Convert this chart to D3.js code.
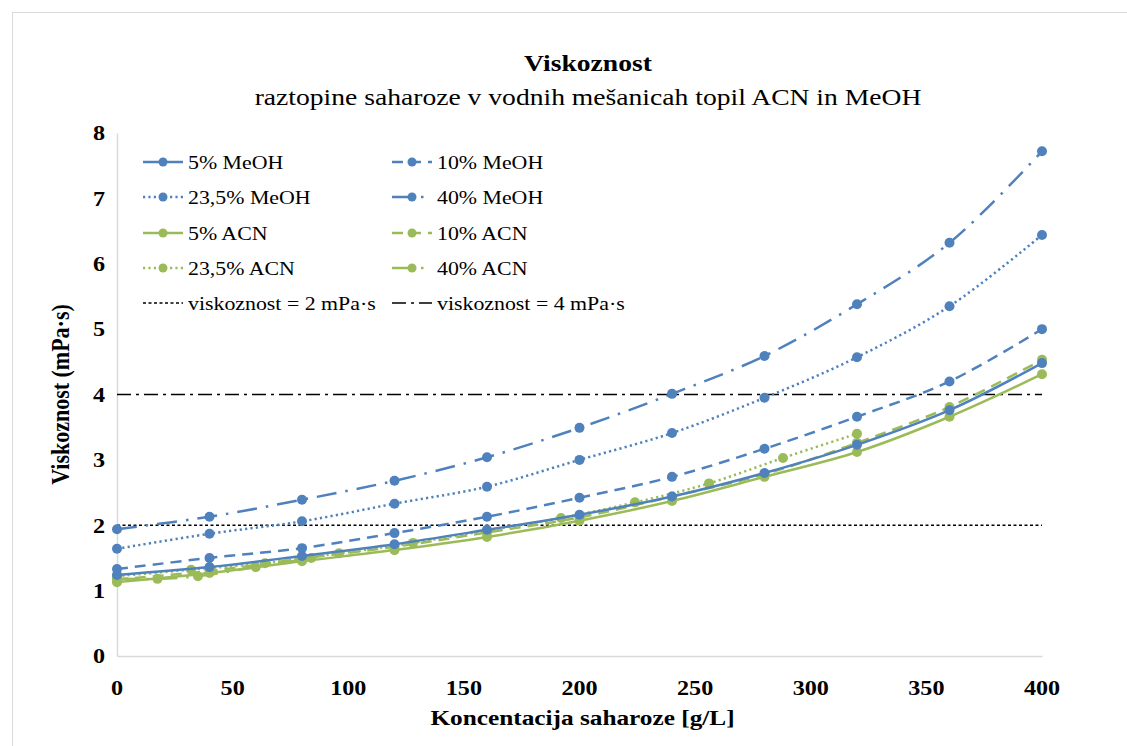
<!DOCTYPE html>
<html>
<head>
<meta charset="utf-8">
<script src="https://cdn.jsdelivr.net/npm/d3@7"></script>
<style>
  html, body { margin: 0; padding: 0; background: #fff; }
  svg { display: block; font-family: "Liberation Serif", "Times New Roman", serif; }
</style>
</head>
<body>
<svg id="chart" width="1127" height="746"></svg>
<script>
// Sucrose concentrations (g/L)
const concStep40 = [0, 40, 80, 120, 160, 200, 240, 280, 320, 360, 400];
const concStep32 = [0, 32, 64, 96, 128, 160, 192, 224, 256, 288, 320];
const concAcn40 = [0, 17.5, 35, 60, 84];

// Viscosity (mPa·s)
const meoh5 = [1.24, 1.36, 1.53, 1.71, 1.93, 2.16, 2.44, 2.80, 3.23, 3.76, 4.48];
const meoh10 = [1.33, 1.50, 1.65, 1.88, 2.13, 2.42, 2.74, 3.17, 3.66, 4.20, 5.00];
const meoh235 = [1.64, 1.87, 2.06, 2.33, 2.59, 3.00, 3.41, 3.95, 4.57, 5.35, 6.44];
const meoh40 = [1.94, 2.13, 2.39, 2.68, 3.04, 3.49, 4.01, 4.59, 5.38, 6.32, 7.72];
const acn5 = [1.13, 1.27, 1.45, 1.62, 1.82, 2.07, 2.37, 2.74, 3.12, 3.66, 4.31];
const acn10 = [1.17, 1.30, 1.49, 1.67, 1.89, 2.12, 2.44, 2.78, 3.26, 3.81, 4.53];
const acn235 = [1.22, 1.32, 1.42, 1.57, 1.73, 1.92, 2.11, 2.35, 2.64, 3.03, 3.40];
const acn40 = [1.18, 1.18, 1.22, 1.36, 1.50];

const seriesNames = ["5% MeOH", "10% MeOH", "23,5% MeOH", "40% MeOH",
                     "5% ACN", "10% ACN", "23,5% ACN", "40% ACN"];
const refLevels = [2, 4];
const refNames = ["viskoznost = 2 mPa·s", "viskoznost = 4 mPa·s"];

const xTicks = [0, 50, 100, 150, 200, 250, 300, 350, 400];
const yTicks = [0, 1, 2, 3, 4, 5, 6, 7, 8];

const blue = "#4F81BD", green = "#9BBB59";
const dashes = {
  solid: null,
  dash: "11,7",
  dot: "2.2,3.2",
  dashDot: "20,9,2.5,9"
};

const series = [
  { name: seriesNames[0], x: concStep40, y: meoh5, color: blue, dash: dashes.solid },
  { name: seriesNames[1], x: concStep40, y: meoh10, color: blue, dash: dashes.dash },
  { name: seriesNames[2], x: concStep40, y: meoh235, color: blue, dash: dashes.dot },
  { name: seriesNames[3], x: concStep40, y: meoh40, color: blue, dash: dashes.dashDot },
  { name: seriesNames[4], x: concStep40, y: acn5, color: green, dash: dashes.solid },
  { name: seriesNames[5], x: concStep40, y: acn10, color: green, dash: dashes.dash },
  { name: seriesNames[6], x: concStep32, y: acn235, color: green, dash: dashes.dot },
  { name: seriesNames[7], x: concAcn40, y: acn40, color: green, dash: dashes.dashDot }
];

// the chart's lettering is set slightly wide
const SX = 1.15;

const svg = d3.select("#chart");

// text placed at (px,py) and widened horizontally
function wideText(parent, px, py, str, opts) {
  const g = parent.append("g")
    .attr("transform", `translate(${px},${py})` + (opts.rotate ? ` rotate(${opts.rotate}) scale(1,${SX})` : ` scale(${SX},1)`));
  return g.append("text")
    .attr("x", 0).attr("y", 0)
    .attr("dy", opts.dy || null)
    .attr("text-anchor", opts.anchor || "start")
    .attr("font-size", opts.size)
    .attr("font-weight", opts.bold ? "bold" : null)
    .attr("fill", "#000")
    .text(str);
}

// outer chart frame
svg.append("rect")
  .attr("x", 12.5).attr("y", 12.5)
  .attr("width", 1140).attr("height", 760)
  .attr("fill", "#fff").attr("stroke", "#d9d9d9").attr("stroke-width", 1);

const plot = { left: 117, right: 1042, top: 133, bottom: 656 };

const x = d3.scaleLinear().domain([0, 400]).range([plot.left, plot.right]);
const y = d3.scaleLinear().domain([0, 8]).range([plot.bottom, plot.top]);

// titles
wideText(svg, 588, 71, "Viskoznost", { anchor: "middle", size: 24, bold: true });
wideText(svg, 588, 105, "raztopine saharoze v vodnih mešanicah topil ACN in MeOH", { anchor: "middle", size: 24 });

// axes (lines from d3 axes, labels widened)
const xAxis = d3.axisBottom(x).tickValues(xTicks).tickSize(0).tickFormat("");
const yAxis = d3.axisLeft(y).tickValues(yTicks).tickSize(0).tickFormat("");
const gx = svg.append("g").attr("transform", `translate(0,${plot.bottom})`).call(xAxis);
const gy = svg.append("g").attr("transform", `translate(${plot.left},0)`).call(yAxis);
[gx, gy].forEach(g => g.select(".domain").attr("stroke", "#d9d9d9").attr("stroke-width", 1.5));

const fmt = d3.format("d");
xTicks.forEach(t => wideText(svg, x(t), plot.bottom + 39, fmt(t), { anchor: "middle", size: 21, bold: true }));
yTicks.forEach(t => wideText(svg, plot.left - 12, y(t), fmt(t), { anchor: "end", size: 21, bold: true, dy: "0.35em" }));

wideText(svg, (plot.left + plot.right) / 2 + 3, 725, "Koncentacija saharoze [g/L]", { anchor: "middle", size: 22, bold: true });
wideText(svg, 69, (plot.top + plot.bottom) / 2, "Viskoznost (mPa·s)", { anchor: "middle", size: 22, bold: true, rotate: -90 });

// reference levels
const refDash = ["3,2.5", "14,5,3,5"];
refLevels.forEach((lv, i) => {
  svg.append("line")
    .attr("x1", x(0)).attr("x2", x(400))
    .attr("y1", y(lv)).attr("y2", y(lv))
    .attr("stroke", "#000").attr("stroke-width", 1.5)
    .attr("stroke-dasharray", refDash[i]);
});

// data series, smoothed
const line = d3.line()
  .x(d => x(d[0])).y(d => y(d[1]))
  .curve(d3.curveCatmullRom.alpha(0.5));

const drawOrder = [4, 5, 6, 7, 0, 1, 2, 3];
drawOrder.forEach(i => {
  const s = series[i];
  const pts = s.x.map((v, k) => [v, s.y[k]]);
  const g = svg.append("g");
  g.append("path")
    .attr("d", line(pts))
    .attr("fill", "none")
    .attr("stroke", s.color)
    .attr("stroke-width", 2.5)
    .attr("stroke-dasharray", s.dash);
  g.selectAll("circle").data(pts).join("circle")
    .attr("cx", d => x(d[0])).attr("cy", d => y(d[1]))
    .attr("r", 5).attr("fill", s.color);
});

// legend
const legCols = [143, 392];
const legRows = [162, 197, 233, 268, 303];
const legItems = series.map(s => ({ name: s.name, color: s.color, dash: s.dash, marker: true }))
  .concat(refNames.map((n, i) => ({ name: n, color: "#000", dash: refDash[i], marker: false, width: 1.5 })));

legItems.forEach((it, i) => {
  const cx = legCols[i % 2], cy = legRows[Math.floor(i / 2)];
  const g = svg.append("g").attr("transform", `translate(${cx},${cy})`);
  g.append("line")
    .attr("x1", 0).attr("x2", 40).attr("y1", 0).attr("y2", 0)
    .attr("stroke", it.color).attr("stroke-width", it.width || 2.5)
    .attr("stroke-dasharray", it.dash);
  if (it.marker) {
    g.append("circle").attr("cx", 20).attr("cy", 0).attr("r", 4.5).attr("fill", it.color);
  }
  wideText(g, 45, 0, it.name, { size: 19, dy: "0.35em" });
});
</script>
</body>
</html>
